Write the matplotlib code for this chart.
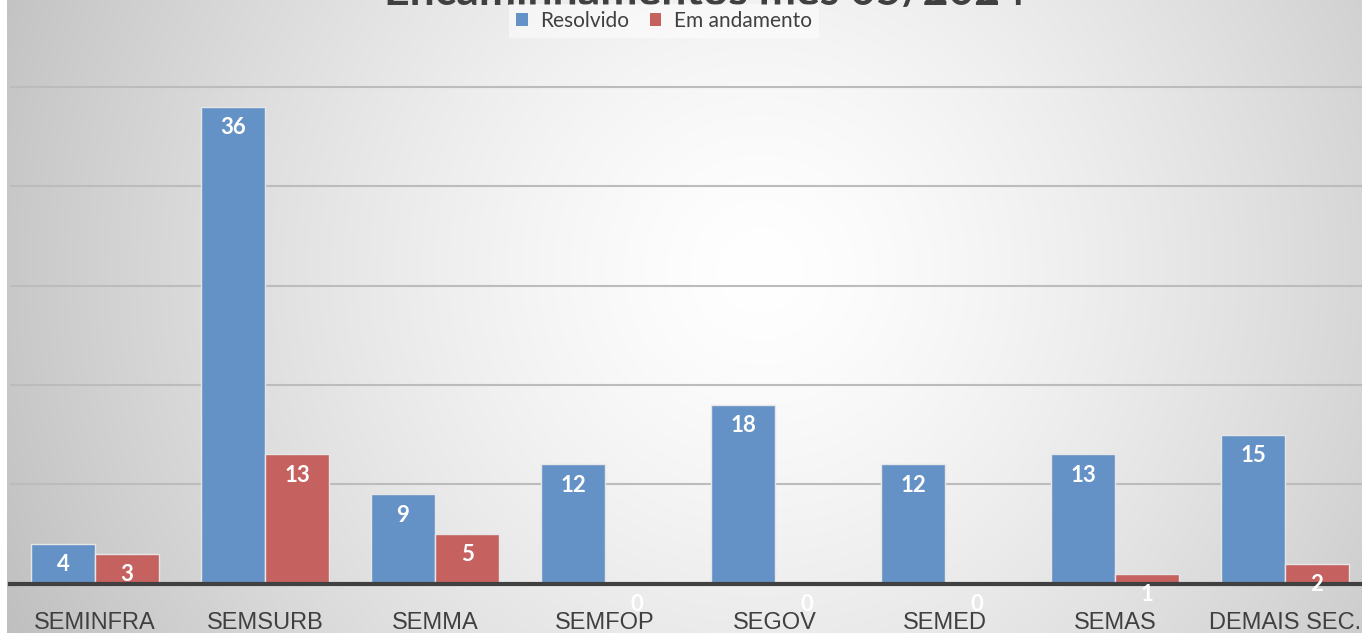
import numpy as np
import matplotlib
matplotlib.use("Agg")
import matplotlib.pyplot as plt

# ---- data ----
categories = ["SEMINFRA", "SEMSURB", "SEMMA", "SEMFOP", "SEGOV", "SEMED", "SEMAS", "DEMAIS SEC."]
resolvido = [4, 48, 9, 12, 18, 12, 13, 15]          # bar heights as drawn
resolvido_labels = ["4", "36", "9", "12", "18", "12", "13", "15"]
andamento = [3, 13, 5, 0, 0, 0, 1, 2]
andamento_labels = ["3", "13", "5", "0", "0", "0", "1", "2"]
series_names = ["Resolvido", "Em andamento"]
title = "Encaminhamentos mês 05/2024"
y_ticks = [10, 20, 30, 40, 50]

W, H = 1362, 633
fig = plt.figure(figsize=(W / 100, H / 100), dpi=100)
fig.patch.set_facecolor("white")

# background radial gradient
bg = fig.add_axes([7 / W, 0, (W - 7) / W, 1])
bg.set_axis_off()
xx, yy = np.meshgrid(np.arange(7, W), np.arange(0, H))
r = np.sqrt((xx - 760) ** 2 + (yy - 270) ** 2) / 820
g = 255 - 62 * np.clip(r, 0, 1.2) ** 1.4
g = g / 255
img = np.dstack([g, g, g])
bg.imshow(img, aspect="auto", extent=[0, 1, 0, 1], zorder=0)
bg.set_xlim(0, 1)
bg.set_ylim(0, 1)

# main axes
base_px = 583.5
px_per_unit = 9.93
ytop = 52
ax = fig.add_axes([10 / W, (H - base_px) / H, 1360 / W, ytop * px_per_unit / H])
ax.set_facecolor("none")
x = np.arange(len(categories))
w = 64 / 170
blue = "#6592c6"
red = "#c5625f"
b1 = ax.bar(x - w / 2, resolvido, w, color=blue, edgecolor="#e6e6e6", linewidth=1.0, zorder=3, label=series_names[0])
b2 = ax.bar(x + w / 2, andamento, w, color=red, edgecolor="#e6e6e6", linewidth=1.0, zorder=3, label=series_names[1])

lab_font = dict(color="white", fontweight="bold", fontsize=16, family=["Lato", "DejaVu Sans"])
off = -21 * 0.72
for xi, h, t in zip(x - w / 2, resolvido, resolvido_labels):
    ax.annotate(t, xy=(xi, h), xytext=(0, off), textcoords="offset points",
                ha="center", va="center", zorder=5, annotation_clip=False, **lab_font)
for xi, h, t in zip(x + w / 2, andamento, andamento_labels):
    ax.annotate(t, xy=(xi, h), xytext=(0, off), textcoords="offset points",
                ha="center", va="center", zorder=5, annotation_clip=False, **lab_font)

ax.set_xlim(-0.5, len(categories) - 0.5)
ax.set_ylim(0, ytop)
ax.set_yticks(y_ticks)
ax.yaxis.grid(True, color="#bcbcbc", linewidth=1.5, zorder=1)
ax.set_axisbelow(True)
ax.tick_params(axis="y", left=False, labelleft=False)
ax.set_xticks(x)
ax.set_xticklabels(categories, fontsize=17, color="#404040", family="Liberation Sans")
ax.tick_params(axis="x", length=0, pad=20.5)
for s in ax.spines.values():
    s.set_visible(False)
ax.axhline(0, color="#404040", linewidth=3, zorder=4, clip_on=False)

# title (mostly cut off at top, as in the reference)
fig.text(705 / W, 1 - 5 / H, title, ha="center", va="baseline", fontsize=32,
         fontweight="bold", color="#404040", family=["Lato", "DejaVu Sans"], zorder=1)

# legend
leg = fig.legend(handles=[b1, b2], labels=series_names, loc="center",
                 bbox_to_anchor=(664 / W, 1 - 21 / H), ncol=2, frameon=True,
                 prop={"family": "Lato", "size": 15}, handlelength=0.55, handleheight=0.55,
                 handletextpad=0.6, columnspacing=1.0, borderpad=0.35, fancybox=False)
leg.set_zorder(5)
leg.get_frame().set_facecolor("white")
leg.get_frame().set_alpha(0.5)
leg.get_frame().set_edgecolor("none")
for t in leg.get_texts():
    t.set_color("#404040")
for p in leg.legend_handles:
    p.set_edgecolor("none")

fig.savefig("out.png", dpi=100)
